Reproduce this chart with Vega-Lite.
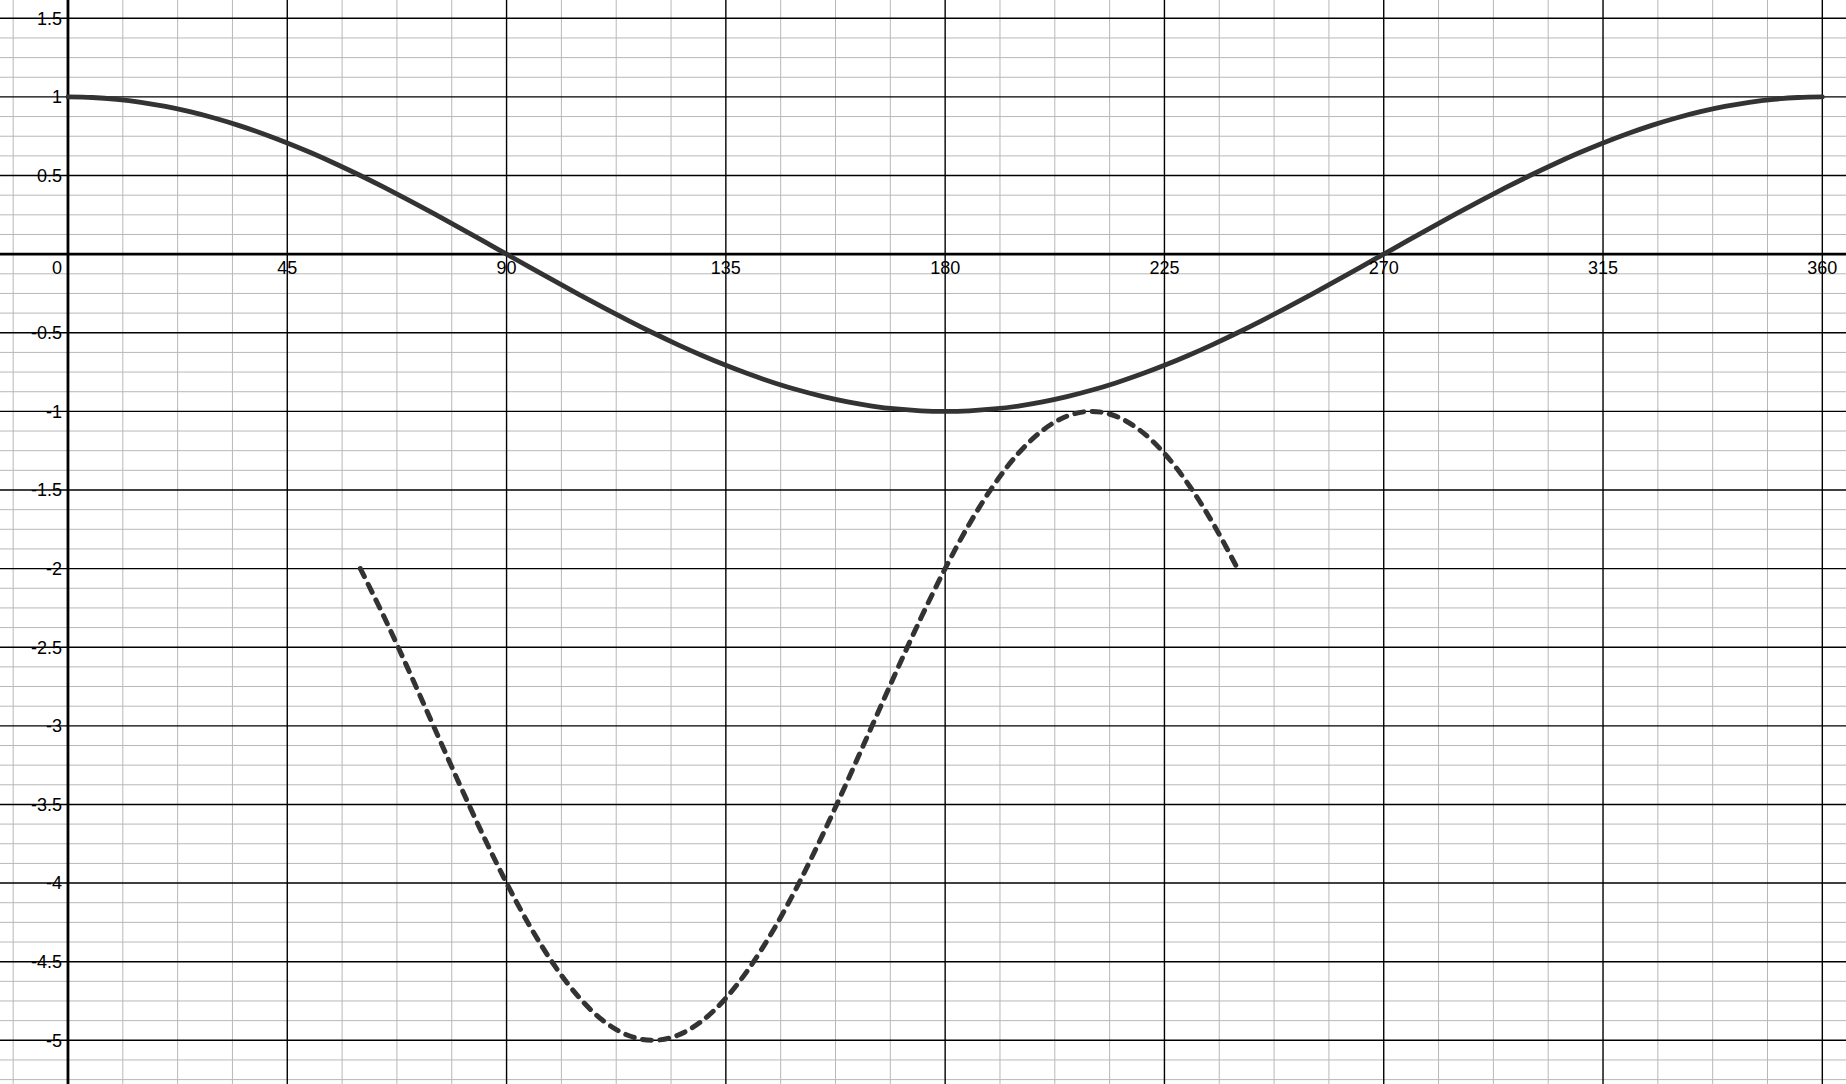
{
  "$schema": "https://vega.github.io/schema/vega-lite/v6.json",
  "width": 1846,
  "height": 1084,
  "autosize": {"type": "none"},
  "padding": 0,
  "background": "white",
  "config": {"view": {"stroke": null}},
  "datasets": {
    "vminor": [
      {"x": -11.25}, {"x": 11.25}, {"x": 22.5}, {"x": 33.75}, {"x": 56.25}, {"x": 67.5}, {"x": 78.75},
      {"x": 101.25}, {"x": 112.5}, {"x": 123.75}, {"x": 146.25}, {"x": 157.5}, {"x": 168.75},
      {"x": 191.25}, {"x": 202.5}, {"x": 213.75}, {"x": 236.25}, {"x": 247.5}, {"x": 258.75},
      {"x": 281.25}, {"x": 292.5}, {"x": 303.75}, {"x": 326.25}, {"x": 337.5}, {"x": 348.75}
    ],
    "hminor": [
      {"y": 1.375}, {"y": 1.25}, {"y": 1.125}, {"y": 0.875}, {"y": 0.75}, {"y": 0.625},
      {"y": 0.375}, {"y": 0.25}, {"y": 0.125}, {"y": -0.125}, {"y": -0.25}, {"y": -0.375},
      {"y": -0.625}, {"y": -0.75}, {"y": -0.875}, {"y": -1.125}, {"y": -1.25}, {"y": -1.375},
      {"y": -1.625}, {"y": -1.75}, {"y": -1.875}, {"y": -2.125}, {"y": -2.25}, {"y": -2.375},
      {"y": -2.625}, {"y": -2.75}, {"y": -2.875}, {"y": -3.125}, {"y": -3.25}, {"y": -3.375},
      {"y": -3.625}, {"y": -3.75}, {"y": -3.875}, {"y": -4.125}, {"y": -4.25}, {"y": -4.375},
      {"y": -4.625}, {"y": -4.75}, {"y": -4.875}, {"y": -5.125}, {"y": -5.25}
    ],
    "xlabels": [
      {"x": 45, "label": "45"}, {"x": 90, "label": "90"}, {"x": 135, "label": "135"},
      {"x": 180, "label": "180"}, {"x": 225, "label": "225"}, {"x": 270, "label": "270"},
      {"x": 315, "label": "315"}, {"x": 360, "label": "360"}
    ],
    "ylabels": [
      {"y": 1.5, "label": "1.5"}, {"y": 1, "label": "1"}, {"y": 0.5, "label": "0.5"},
      {"y": -0.5, "label": "-0.5"}, {"y": -1, "label": "-1"}, {"y": -1.5, "label": "-1.5"},
      {"y": -2, "label": "-2"}, {"y": -2.5, "label": "-2.5"}, {"y": -3, "label": "-3"},
      {"y": -3.5, "label": "-3.5"}, {"y": -4, "label": "-4"}, {"y": -4.5, "label": "-4.5"},
      {"y": -5, "label": "-5"}
    ],
    "origin": [{"x": 0, "y": 0, "label": "0"}],
    "cosine": [
      {"x": 0, "y": 1}, {"x": 5, "y": 0.9962}, {"x": 10, "y": 0.9848}, {"x": 15, "y": 0.9659},
      {"x": 20, "y": 0.9397}, {"x": 25, "y": 0.9063}, {"x": 30, "y": 0.866}, {"x": 35, "y": 0.8192},
      {"x": 40, "y": 0.766}, {"x": 45, "y": 0.7071}, {"x": 50, "y": 0.6428}, {"x": 55, "y": 0.5736},
      {"x": 60, "y": 0.5}, {"x": 65, "y": 0.4226}, {"x": 70, "y": 0.342}, {"x": 75, "y": 0.2588},
      {"x": 80, "y": 0.1736}, {"x": 85, "y": 0.0872}, {"x": 90, "y": 0}, {"x": 95, "y": -0.0872},
      {"x": 100, "y": -0.1736}, {"x": 105, "y": -0.2588}, {"x": 110, "y": -0.342}, {"x": 115, "y": -0.4226},
      {"x": 120, "y": -0.5}, {"x": 125, "y": -0.5736}, {"x": 130, "y": -0.6428}, {"x": 135, "y": -0.7071},
      {"x": 140, "y": -0.766}, {"x": 145, "y": -0.8192}, {"x": 150, "y": -0.866}, {"x": 155, "y": -0.9063},
      {"x": 160, "y": -0.9397}, {"x": 165, "y": -0.9659}, {"x": 170, "y": -0.9848}, {"x": 175, "y": -0.9962},
      {"x": 180, "y": -1}, {"x": 185, "y": -0.9962}, {"x": 190, "y": -0.9848}, {"x": 195, "y": -0.9659},
      {"x": 200, "y": -0.9397}, {"x": 205, "y": -0.9063}, {"x": 210, "y": -0.866}, {"x": 215, "y": -0.8192},
      {"x": 220, "y": -0.766}, {"x": 225, "y": -0.7071}, {"x": 230, "y": -0.6428}, {"x": 235, "y": -0.5736},
      {"x": 240, "y": -0.5}, {"x": 245, "y": -0.4226}, {"x": 250, "y": -0.342}, {"x": 255, "y": -0.2588},
      {"x": 260, "y": -0.1736}, {"x": 265, "y": -0.0872}, {"x": 270, "y": 0}, {"x": 275, "y": 0.0872},
      {"x": 280, "y": 0.1736}, {"x": 285, "y": 0.2588}, {"x": 290, "y": 0.342}, {"x": 295, "y": 0.4226},
      {"x": 300, "y": 0.5}, {"x": 305, "y": 0.5736}, {"x": 310, "y": 0.6428}, {"x": 315, "y": 0.7071},
      {"x": 320, "y": 0.766}, {"x": 325, "y": 0.8192}, {"x": 330, "y": 0.866}, {"x": 335, "y": 0.9063},
      {"x": 340, "y": 0.9397}, {"x": 345, "y": 0.9659}, {"x": 350, "y": 0.9848}, {"x": 355, "y": 0.9962},
      {"x": 360, "y": 1}
    ],
    "dashed": [
      {"x": 60, "y": -2}, {"x": 65, "y": -2.316}, {"x": 70, "y": -2.6527}, {"x": 75, "y": -3},
      {"x": 80, "y": -3.3473}, {"x": 85, "y": -3.684}, {"x": 90, "y": -4}, {"x": 95, "y": -4.2856},
      {"x": 100, "y": -4.532}, {"x": 105, "y": -4.732}, {"x": 110, "y": -4.8794}, {"x": 115, "y": -4.9696},
      {"x": 120, "y": -5}, {"x": 125, "y": -4.9696}, {"x": 130, "y": -4.8794}, {"x": 135, "y": -4.732},
      {"x": 140, "y": -4.532}, {"x": 145, "y": -4.2856}, {"x": 150, "y": -4}, {"x": 155, "y": -3.684},
      {"x": 160, "y": -3.3473}, {"x": 165, "y": -3}, {"x": 170, "y": -2.6527}, {"x": 175, "y": -2.316},
      {"x": 180, "y": -2}, {"x": 185, "y": -1.7144}, {"x": 190, "y": -1.468}, {"x": 195, "y": -1.268},
      {"x": 200, "y": -1.1206}, {"x": 205, "y": -1.0304}, {"x": 210, "y": -1}, {"x": 215, "y": -1.0304},
      {"x": 220, "y": -1.1206}, {"x": 225, "y": -1.268}, {"x": 230, "y": -1.468}, {"x": 235, "y": -1.7144},
      {"x": 240, "y": -2}
    ]
  },
  "layer": [
    {
      "data": {"name": "vminor"},
      "mark": {"type": "rule", "color": "#b8b8b8", "strokeWidth": 1},
      "encoding": {
        "x": {"field": "x", "type": "quantitative", "axis": null,
              "scale": {"domain": [-13.95, 364.86], "nice": false, "zero": false}}
      }
    },
    {
      "data": {"name": "hminor"},
      "mark": {"type": "rule", "color": "#b8b8b8", "strokeWidth": 1},
      "encoding": {
        "y": {"field": "y", "type": "quantitative", "axis": null,
              "scale": {"domain": [-5.278, 1.6164], "nice": false, "zero": false}}
      }
    },
    {
      "data": {"name": "xlabels"},
      "mark": {"type": "rule", "color": "#000000", "strokeWidth": 1.4},
      "encoding": {
        "x": {"field": "x", "type": "quantitative", "axis": null,
              "scale": {"domain": [-13.95, 364.86], "nice": false, "zero": false}}
      }
    },
    {
      "data": {"name": "ylabels"},
      "mark": {"type": "rule", "color": "#000000", "strokeWidth": 1.4},
      "encoding": {
        "y": {"field": "y", "type": "quantitative", "axis": null,
              "scale": {"domain": [-5.278, 1.6164], "nice": false, "zero": false}}
      }
    },
    {
      "data": {"name": "origin"},
      "mark": {"type": "rule", "color": "#000000", "strokeWidth": 2.8},
      "encoding": {
        "x": {"field": "x", "type": "quantitative", "axis": null,
              "scale": {"domain": [-13.95, 364.86], "nice": false, "zero": false}}
      }
    },
    {
      "data": {"name": "origin"},
      "mark": {"type": "rule", "color": "#000000", "strokeWidth": 2.8},
      "encoding": {
        "y": {"field": "y", "type": "quantitative", "axis": null,
              "scale": {"domain": [-5.278, 1.6164], "nice": false, "zero": false}}
      }
    },
    {
      "data": {"name": "cosine"},
      "mark": {"type": "line", "color": "#333333", "strokeWidth": 4.8, "strokeCap": "round", "interpolate": "monotone"},
      "encoding": {
        "x": {"field": "x", "type": "quantitative", "axis": null,
              "scale": {"domain": [-13.95, 364.86], "nice": false, "zero": false}},
        "y": {"field": "y", "type": "quantitative", "axis": null,
              "scale": {"domain": [-5.278, 1.6164], "nice": false, "zero": false}}
      }
    },
    {
      "data": {"name": "dashed"},
      "mark": {"type": "line", "color": "#333333", "strokeWidth": 5, "strokeCap": "round", "strokeDash": [9, 8.5], "interpolate": "monotone"},
      "encoding": {
        "x": {"field": "x", "type": "quantitative", "axis": null,
              "scale": {"domain": [-13.95, 364.86], "nice": false, "zero": false}},
        "y": {"field": "y", "type": "quantitative", "axis": null,
              "scale": {"domain": [-5.278, 1.6164], "nice": false, "zero": false}}
      }
    },
    {
      "data": {"name": "xlabels"},
      "transform": [{"calculate": "0", "as": "y"}],
      "mark": {"type": "text", "font": "Liberation Sans", "fontSize": 18, "color": "#000000", "align": "center", "baseline": "alphabetic", "dy": 19.5},
      "encoding": {
        "x": {"field": "x", "type": "quantitative", "axis": null,
              "scale": {"domain": [-13.95, 364.86], "nice": false, "zero": false}},
        "y": {"field": "y", "type": "quantitative", "axis": null,
              "scale": {"domain": [-5.278, 1.6164], "nice": false, "zero": false}},
        "text": {"field": "label"}
      }
    },
    {
      "data": {"name": "ylabels"},
      "transform": [{"calculate": "0", "as": "x"}],
      "mark": {"type": "text", "font": "Liberation Sans", "fontSize": 18, "color": "#000000", "align": "right", "baseline": "alphabetic", "dx": -6, "dy": 6.3},
      "encoding": {
        "x": {"field": "x", "type": "quantitative", "axis": null,
              "scale": {"domain": [-13.95, 364.86], "nice": false, "zero": false}},
        "y": {"field": "y", "type": "quantitative", "axis": null,
              "scale": {"domain": [-5.278, 1.6164], "nice": false, "zero": false}},
        "text": {"field": "label"}
      }
    },
    {
      "data": {"name": "origin"},
      "mark": {"type": "text", "font": "Liberation Sans", "fontSize": 18, "color": "#000000", "align": "right", "baseline": "alphabetic", "dx": -6, "dy": 19.5},
      "encoding": {
        "x": {"field": "x", "type": "quantitative", "axis": null,
              "scale": {"domain": [-13.95, 364.86], "nice": false, "zero": false}},
        "y": {"field": "y", "type": "quantitative", "axis": null,
              "scale": {"domain": [-5.278, 1.6164], "nice": false, "zero": false}},
        "text": {"field": "label"}
      }
    }
  ]
}
